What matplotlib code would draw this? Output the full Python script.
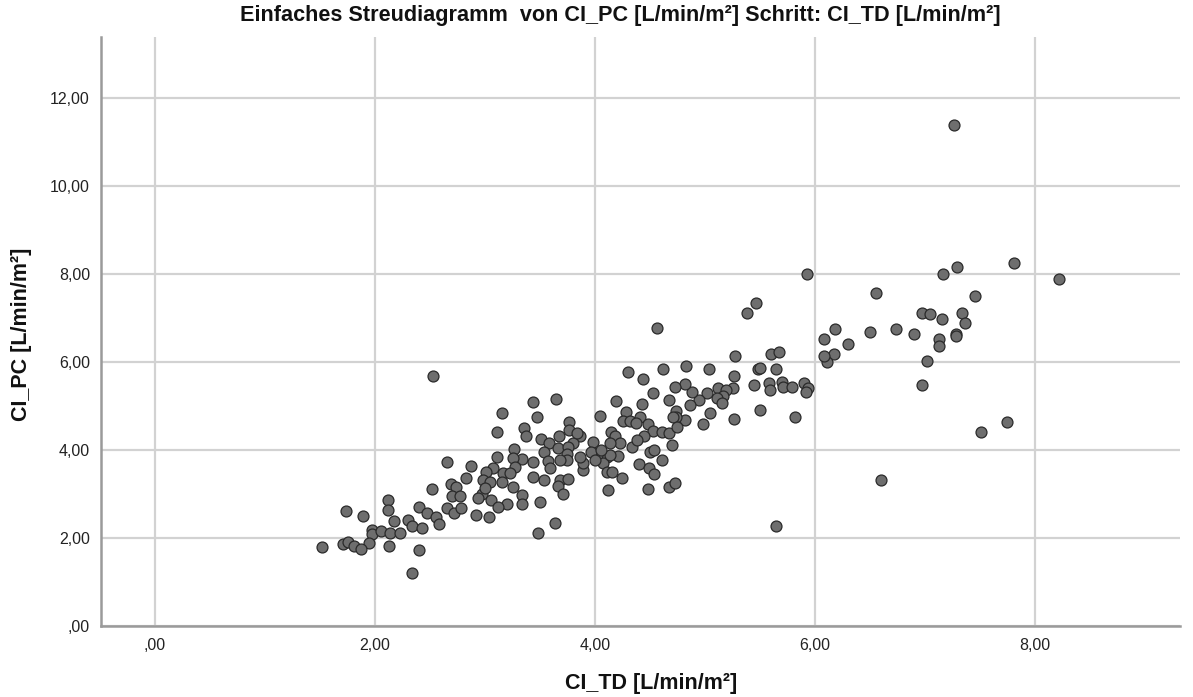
import matplotlib
matplotlib.use("Agg")
import matplotlib.pyplot as plt
import numpy as np
from matplotlib.ticker import FuncFormatter, MultipleLocator

plt.rcParams['font.family'] = ['Liberation Sans', 'DejaVu Sans']

# CI_TD values (x) and CI_PC values (y)
ci_td = [
    # low range
    1.733, 1.894, 2.121, 2.121, 2.173, 2.403, 2.476, 2.555, 2.582, 2.297,
    2.333, 2.424, 1.970, 1.970, 2.052, 2.136, 2.227, 1.945, 1.521, 1.706,
    1.758, 1.809, 1.873, 2.130, 2.403, 2.333, 2.652, 2.521, 2.691, 2.742,
    2.703, 2.773, 2.652, 2.718, 2.779, 2.530, 2.975,
    # central cluster
    4.564, 4.303, 4.437, 4.531, 4.191, 4.279, 4.430, 4.043, 4.252, 4.318,
    4.409, 4.370, 4.479, 4.531, 4.143, 4.182, 4.228, 4.137, 4.340, 4.449,
    4.385, 4.500, 4.540, 4.403, 4.491, 4.540, 4.249, 4.479, 4.122, 4.212,
    4.106, 4.021, 4.076, 4.106, 4.152, 3.979, 3.961, 4.000, 3.894, 3.888,
    3.864, 3.864, 3.803, 3.767, 3.767, 3.834, 3.673, 3.643, 3.434, 3.470,
    3.152, 3.358, 3.370, 3.106, 3.509, 3.585, 3.661, 3.758, 3.743, 3.749,
    3.540, 3.576, 3.591, 3.682, 3.264, 3.334, 3.258, 3.440, 3.273, 3.106,
    3.167, 3.228, 3.076, 3.009, 2.870, 2.828, 2.985, 3.046, 3.000, 2.940,
    3.055, 3.152, 3.258, 3.334, 3.197, 3.121, 3.440, 3.540, 3.500, 3.682,
    3.758, 3.667, 3.712, 2.918, 3.040, 3.640, 3.479, 3.342, 4.137, 4.060,
    # upper middle
    5.930, 5.463, 5.385, 5.272, 5.600, 5.672, 4.621, 4.827, 5.036, 5.263,
    5.484, 5.500, 5.651, 5.445, 5.581, 5.590, 5.703, 5.712, 5.793, 5.900,
    5.939, 5.918, 5.257, 5.121, 5.191, 5.166, 5.106, 5.157, 5.024, 4.945,
    4.887, 4.818, 4.727, 4.675, 4.863, 5.045, 4.984, 5.263, 5.500, 5.824,
    4.818, 4.736, 4.736, 4.706, 4.615, 4.697, 4.676, 4.743, 4.615, 4.676,
    4.728, 5.645,
    # right range
    7.266, 7.812, 7.294, 7.167, 8.221, 6.560, 7.454, 6.970, 7.051, 7.157,
    7.342, 7.363, 6.181, 6.081, 6.303, 6.500, 6.742, 6.900, 7.127, 7.127,
    7.282, 7.282, 6.172, 6.112, 6.081, 7.024, 6.970, 7.515, 7.748, 6.606,
]
ci_pc = [
    # low range
    2.614, 2.500, 2.864, 2.636, 2.386, 2.712, 2.576, 2.470, 2.318, 2.409,
    2.280, 2.234, 2.182, 2.083, 2.167, 2.121, 2.106, 1.894, 1.803, 1.856,
    1.917, 1.826, 1.750, 1.826, 1.727, 1.197, 3.734, 3.106, 3.227, 3.152,
    2.955, 2.955, 2.674, 2.561, 2.674, 5.680, 2.990,
    # central cluster
    6.770, 5.765, 5.621, 5.288, 5.114, 4.871, 5.038, 4.773, 4.667, 4.667,
    4.742, 4.606, 4.591, 4.439, 4.417, 4.318, 4.152, 4.152, 4.076, 4.318,
    4.227, 3.962, 4.000, 3.682, 3.598, 3.447, 3.371, 3.106, 3.091, 3.864,
    3.848, 3.886, 3.712, 3.508, 3.508, 4.189, 3.962, 3.773, 3.545, 3.697,
    3.848, 4.318, 4.152, 4.629, 4.455, 4.394, 4.318, 5.152, 5.083, 4.742,
    4.833, 4.492, 4.318, 4.402, 4.242, 4.152, 4.053, 4.076, 3.909, 3.773,
    3.962, 3.758, 3.583, 3.773, 4.015, 3.788, 3.811, 3.735, 3.621, 3.848,
    3.485, 3.470, 3.583, 3.508, 3.644, 3.371, 3.318, 3.280, 3.129, 2.902,
    2.864, 3.280, 3.167, 2.977, 2.773, 2.712, 3.379, 3.318, 2.826, 3.318,
    3.341, 3.182, 2.999, 2.523, 2.485, 2.350, 2.121, 2.773, 3.886, 4.000,
    # upper middle
    8.000, 7.348, 7.121, 6.136, 6.182, 6.235, 5.833, 5.917, 5.833, 5.689,
    5.833, 5.860, 5.841, 5.477, 5.530, 5.364, 5.538, 5.439, 5.439, 5.515,
    5.401, 5.326, 5.416, 5.401, 5.364, 5.235, 5.174, 5.060, 5.303, 5.136,
    5.326, 5.492, 5.424, 5.136, 5.023, 4.848, 4.590, 4.697, 4.909, 4.757,
    4.682, 4.894, 4.742, 4.757, 4.416, 4.113, 4.378, 4.530, 3.773, 3.166,
    3.242, 2.280,
    # right range
    11.387, 8.258, 8.167, 8.000, 7.886, 7.561, 7.500, 7.122, 7.084, 6.970,
    7.106, 6.879, 6.742, 6.515, 6.402, 6.674, 6.758, 6.629, 6.516, 6.372,
    6.637, 6.591, 6.174, 6.008, 6.137, 6.023, 5.477, 4.402, 4.629, 3.318,
]

title = "Einfaches Streudiagramm  von CI_PC [L/min/m²] Schritt: CI_TD [L/min/m²]"
x_label = "CI_TD [L/min/m²]"
y_label = "CI_PC [L/min/m²]"

fig = plt.figure(figsize=(11.93, 6.97), dpi=100)
ax = fig.add_axes([101/1193, 1 - 626/697, (1180 - 101)/1193, (626 - 37)/697])

ax.scatter(ci_td, ci_pc, s=62, facecolor='#6e6e6e', edgecolor='#2a2a2a',
           linewidths=0.9, zorder=3)

ax.set_xlim(-0.49, 9.32)
ax.set_ylim(0, 13.39)
ax.xaxis.set_major_locator(MultipleLocator(2))
ax.yaxis.set_major_locator(MultipleLocator(2))

def fmt(v, pos):
    s = f"{v:.2f}".replace('.', ',')
    if s.startswith('0,'):
        s = s[1:]
    return s

ax.xaxis.set_major_formatter(FuncFormatter(fmt))
ax.yaxis.set_major_formatter(FuncFormatter(fmt))

ax.grid(True, color='#d2d2d2', linewidth=1.6, zorder=0)
ax.set_axisbelow(True)
for side in ['top', 'right']:
    ax.spines[side].set_visible(False)
for side in ['left', 'bottom']:
    ax.spines[side].set_color('#9a9a9a')
    ax.spines[side].set_linewidth(1.8)

ax.tick_params(axis='both', length=0, labelsize=11.5, colors='#222222')
ax.tick_params(axis='x', pad=9)
ax.tick_params(axis='y', pad=8)

fig.text(620/1193, 1 - 16/697, title, ha='center', va='center',
         fontsize=15.6, fontweight='bold', color='#111111')
fig.text(651/1193, 1 - 684/697, x_label, ha='center', va='center',
         fontsize=15.5, fontweight='bold', color='#111111')
fig.text(22/1193, 1 - 334/697, y_label, ha='center', va='center',
         rotation=90, fontsize=15.5, fontweight='bold', color='#111111')

fig.savefig('out.png', dpi=100)
